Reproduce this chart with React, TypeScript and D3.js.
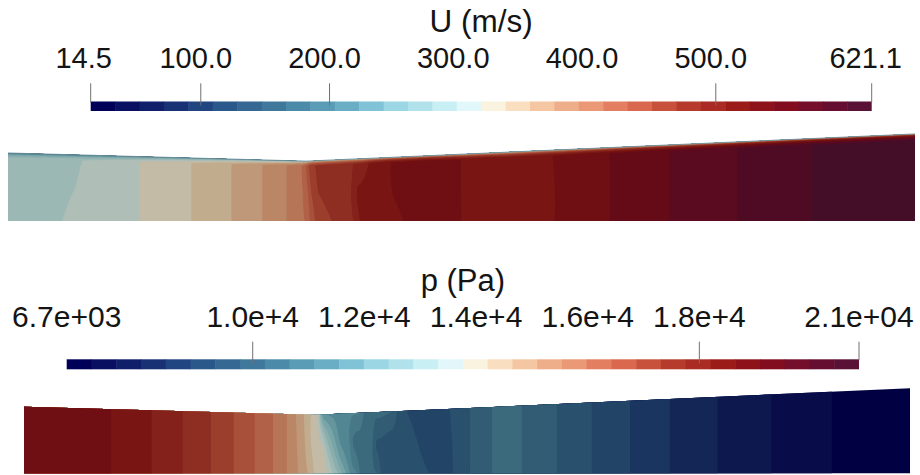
import React, { useMemo } from "react";
import * as d3 from "d3";

const W = 920;
const H = 475;
const FONT = "'Liberation Sans', Arial, Helvetica, sans-serif";

// "Cool to Warm (Extended)" colour map: stop positions and colours
const CMAP_POS = [0, 0.03125, 0.0625, 0.09375, 0.125, 0.15625, 0.1875, 0.21875, 0.25, 0.28125, 0.3125, 0.34375, 0.375, 0.40625, 0.4375, 0.46875, 0.5, 0.52, 0.54, 0.5625, 0.59375, 0.625, 0.65625, 0.6875, 0.71875, 0.75, 0.78125, 0.8125, 0.84375, 0.875, 0.90625, 0.9375, 0.96875, 1];
const CMAP_HEX = ["#000059", "#0a1061", "#101e69", "#172f73", "#204380", "#29568a", "#336591", "#3d7499", "#4985a6", "#5697b3", "#63a7bf", "#77bcd1", "#92d1e0", "#a7dde8", "#c0eaf0", "#d2f4f7", "#f0fbfc", "#fcf1d9", "#fae5c8", "#f7d5b2", "#f2bb96", "#eda682", "#e8906f", "#e0755a", "#d66349", "#c24b36", "#b3362b", "#a62821", "#991818", "#8c1119", "#800d20", "#730e2c", "#660e31", "#591236"];
const N_BINS = 32;
// diffuse lighting applied to the rendered surfaces (r, g, b)
const FIELD_SHADE = [0.78, 0.77, 0.74];

// Velocity magnitude legend
const U_MIN = 14.5;
const U_MAX = 621.1;
const U_TITLE = "U (m/s)";
const U_LABELS = [100, 200, 300, 400, 500];
const U_TICKS = [100, 200, 500];

// Static pressure legend
const P_MIN = 6668;
const P_MAX = 20860;
const P_TITLE = "p (Pa)";
const P_LABELS = [10000, 12000, 14000, 16000, 18000];
const P_TICKS = [10000, 18000];

// Nozzle wall: half-height against axial position, both divided by the nozzle length
const WALL_S = [0, 0.329, 1];
const WALL_H = [0.075, 0.066, 0.096];

// Velocity magnitude samples [s, U] on the axis, at mid-height and just inside the wall
const U_AXIS: [number, number][] = [
  [0, 289], [0.0606, 299], [0.1455, 318], [0.2029, 337], [0.247, 356], [0.2811, 375],
  [0.3076, 394], [0.3275, 413], [0.333, 432], [0.3385, 451], [0.3572, 470], [0.3826, 489],
  [0.3881, 508], [0.4377, 527], [0.4675, 536], [0.5006, 526], [0.5535, 517], [0.6064, 527],
  [0.6659, 546], [0.7321, 565], [0.8071, 584], [0.8898, 603], [1, 616],
];
const U_MID: [number, number][] = [
  [0, 289], [0.075, 299], [0.1455, 318], [0.2029, 337], [0.247, 356], [0.2811, 375],
  [0.3076, 394], [0.3252, 413], [0.3308, 432], [0.3341, 451], [0.3418, 470], [0.3793, 489],
  [0.3848, 508], [0.4245, 527], [0.4653, 536], [0.5006, 526], [0.5535, 517], [0.6064, 527],
  [0.6659, 546], [0.7321, 565], [0.8071, 584], [0.8898, 603], [1, 616],
];
const U_WALL: [number, number][] = [
  [0, 289], [0.0871, 299], [0.1455, 318], [0.2029, 337], [0.247, 356], [0.2811, 375],
  [0.3076, 394], [0.3241, 413], [0.3286, 432], [0.3308, 451], [0.3352, 470], [0.3903, 489],
  [0.3991, 508], [0.4234, 527], [0.4653, 536], [0.5006, 526], [0.5535, 517], [0.6031, 527],
  [0.6659, 546], [0.7321, 565], [0.8071, 584], [0.8898, 603], [1, 616],
];

// Pressure samples [s, p] on the axis, at mid-height and at the wall
const P_UPSTREAM: [number, number][] = [
  [0, 18900], [0.0993, 18640], [0.1445, 18195], [0.1795, 17750], [0.2111, 17310],
  [0.237, 16865], [0.2607, 16420], [0.281, 15980], [0.2968, 15535],
];
const P_DOWNSTREAM: [number, number][] = [
  [0.5034, 9775], [0.5282, 10220], [0.5451, 10400], [0.5621, 10215], [0.6016, 9770],
  [0.6411, 9325], [0.684, 8885], [0.7291, 8440], [0.7833, 7995], [0.8442, 7550],
  [0.912, 7110], [1, 6850],
];
const P_AXIS: [number, number][] = [
  ...P_UPSTREAM,
  [0.3093, 15090], [0.3205, 14650], [0.3273, 14205], [0.3431, 13760], [0.3488, 13320],
  [0.3544, 12875], [0.3589, 12430], [0.3634, 11985], [0.3679, 11545], [0.3758, 11100],
  [0.3792, 10655], [0.3995, 10215], [0.4029, 9770], [0.4582, 9325], [0.4707, 9100],
  [0.4842, 9330],
  ...P_DOWNSTREAM,
];
const P_MID: [number, number][] = [
  ...P_UPSTREAM,
  [0.3081, 15090], [0.3172, 14650], [0.3239, 14205], [0.3363, 13760], [0.3397, 13320],
  [0.3431, 12875], [0.3476, 12430], [0.3521, 11985], [0.3567, 11545], [0.3679, 11100],
  [0.3713, 10655], [0.3939, 10215], [0.3973, 9770], [0.4447, 9325], [0.465, 9100],
  [0.4831, 9330],
  ...P_DOWNSTREAM,
];
const P_WALL: [number, number][] = [
  ...P_UPSTREAM,
  [0.307, 15090], [0.316, 14650], [0.3239, 14205], [0.3318, 13760], [0.333, 13320],
  [0.3341, 12875], [0.3352, 12430], [0.3363, 11985], [0.3386, 11545], [0.3792, 11100],
  [0.3837, 10655], [0.4165, 10215], [0.421, 9770], [0.4323, 9325], [0.4582, 9100],
  [0.4808, 9330],
  ...P_DOWNSTREAM,
];

// Sampling grid in (s, eta), eta = 0 on the axis and 1 on the wall
const NX = 940;
const NY = 110;
const S0 = -0.01;
const S1 = 1.01;
const E0 = -0.03;
const E1 = 1.05;
const DS = (S1 - S0) / NX;
const DE = (E1 - E0) / NY;

type Box = { x0: number; len: number; base: number };
const U_BOX: Box = { x0: 8, len: 907, base: 221 };
const P_BOX: Box = { x0: 24, len: 886, base: 473.3 };

type LegendSpec = {
  title: string; min: number; max: number; labels: number[]; ticks: number[];
  x0: number; x1: number; barY: number; barH: number; titleY: number; labelY: number;
  tickTop: number; tickBottom: number; labelShift: number; minTick: boolean;
  titleSize: number; labelSize: number;
  fmtMid: (v: number) => string; fmtEnd: (v: number) => string;
};

const expo = (v: number) => v.toExponential(1).replace(/e([+-])(\d)$/, "e$10$2");

const U_LEGEND: LegendSpec = {
  title: U_TITLE, min: U_MIN, max: U_MAX, labels: U_LABELS, ticks: U_TICKS,
  x0: 90.7, x1: 871.7, barY: 101.5, barH: 9.5, titleY: 31.5, labelY: 68.3,
  tickTop: 83.3, tickBottom: 105.5, labelShift: -5, minTick: true,
  titleSize: 31.5, labelSize: 29,
  fmtMid: (v) => v.toFixed(1), fmtEnd: (v) => v.toFixed(1),
};
const P_LEGEND: LegendSpec = {
  title: P_TITLE, min: P_MIN, max: P_MAX, labels: P_LABELS, ticks: P_TICKS,
  x0: 66.7, x1: 859, barY: 359.3, barH: 10, titleY: 291, labelY: 326.7,
  tickTop: 341.7, tickBottom: 363.5, labelShift: 0, minTick: false,
  titleSize: 31, labelSize: 30,
  fmtMid: (v) => v.toExponential(1), fmtEnd: expo,
};

function Legend({ spec, colors }: { spec: LegendSpec; colors: string[] }) {
  const x = d3.scaleLinear().domain([spec.min, spec.max]).range([spec.x0, spec.x1]);
  const edges = d3.range(N_BINS + 1).map((i) => spec.min + ((spec.max - spec.min) * i) / N_BINS);
  const tickColor = "#707070";
  return (
    <g fontFamily={FONT} fill="#141414">
      <text x={(spec.x0 + spec.x1) / 2} y={spec.titleY} fontSize={spec.titleSize} textAnchor="middle">
        {spec.title}
      </text>
      <text x={x(spec.min) + spec.labelShift * 1.4} y={spec.labelY} fontSize={spec.labelSize} textAnchor="middle">
        {spec.fmtEnd(spec.min)}
      </text>
      {spec.labels.map((v) => (
        <text key={v} x={x(v) + spec.labelShift} y={spec.labelY} fontSize={spec.labelSize} textAnchor="middle">
          {spec.fmtMid(v)}
        </text>
      ))}
      <text x={x(spec.max) + spec.labelShift * 1.2} y={spec.labelY} fontSize={spec.labelSize} textAnchor="middle">
        {spec.fmtEnd(spec.max)}
      </text>
      {d3.range(N_BINS).map((i) => (
        <rect
          key={i}
          x={x(edges[i])}
          y={spec.barY}
          width={x(edges[i + 1]) - x(edges[i]) + (i < N_BINS - 1 ? 0.5 : 0)}
          height={spec.barH}
          fill={colors[i]}
        />
      ))}
      {spec.ticks.map((v) => (
        <line key={v} x1={x(v)} x2={x(v)} y1={spec.tickTop} y2={spec.tickBottom} stroke={tickColor} strokeWidth={1} />
      ))}
      {spec.minTick && (
        <line x1={x(spec.min)} x2={x(spec.min)} y1={spec.tickTop} y2={spec.barY + 1} stroke={tickColor} strokeWidth={1} />
      )}
      <line x1={x(spec.max)} x2={x(spec.max)} y1={spec.tickTop} y2={spec.barY + 1} stroke={tickColor} strokeWidth={1} />
    </g>
  );
}

type FieldProps = {
  id: string;
  rows: [number, number][][];
  min: number;
  max: number;
  box: Box;
  colors: string[];
  profileFactor?: (eta: number) => number;
  wallStroke?: string;
};

function Field({ id, rows, min, max, box, colors, profileFactor, wallStroke }: FieldProps) {
  const built = useMemo(() => {
    const halfHeight = d3.scaleLinear().domain(WALL_S).range(WALL_H);
    const px = (s: number) => box.x0 + s * box.len;
    const py = (s: number, e: number) => box.base - e * halfHeight(s) * box.len;

    // values along s for each row
    const profiles = rows.map((r) =>
      d3.scaleLinear().domain(r.map((d) => d[0])).range(r.map((d) => d[1])).clamp(true)
    );
    const cols = profiles.map((f) => d3.range(NX).map((i) => f(S0 + (i + 0.5) * DS)));
    const values = new Array(NX * NY);
    for (let j = 0; j < NY; j++) {
      const e = E0 + (j + 0.5) * DE;
      const t = Math.min(1, Math.max(0, e));
      const w0 = 2 * (t - 0.5) * (t - 1);
      const w1 = -4 * t * (t - 1);
      const w2 = 2 * t * (t - 0.5);
      const m = profileFactor ? profileFactor(e) : 1;
      for (let i = 0; i < NX; i++) {
        values[j * NX + i] = (w0 * cols[0][i] + w1 * cols[1][i] + w2 * cols[2][i]) * m;
      }
    }
    const thresholds = d3.range(1, N_BINS).map((k) => min + ((max - min) * k) / N_BINS);
    const bands = d3.contours().size([NX, NY]).thresholds(thresholds)(values);

    const projection = d3.geoTransform({
      point(gx: number, gy: number) {
        const s = S0 + gx * DS;
        const e = E0 + gy * DE;
        (this as any).stream.point(px(s), py(s, e));
      },
    });
    const path = d3.geoPath(projection);
    const bandPaths = bands.map((b) => path(b as any) || "");

    const wallPts: [number, number][] = WALL_S.map((s) => [px(s), py(s, 1)]);
    const outline: [number, number][] = [[px(0), box.base], ...wallPts, [px(1), box.base]];
    const clip = (d3.line()(outline) || "") + "Z";
    const wall = d3.line()(wallPts) || "";
    return { bandPaths, clip, wall, x0: px(0), x1: px(1), top: py(1, 1) };
  }, [rows, min, max, box, profileFactor]);

  return (
    <g>
      <defs>
        <clipPath id={id}>
          <path d={built.clip} />
        </clipPath>
      </defs>
      <g clipPath={`url(#${id})`}>
        <rect x={built.x0 - 2} y={built.top - 10} width={built.x1 - built.x0 + 4} height={box.base - built.top + 12} fill={colors[0]} />
        {built.bandPaths.map((d, i) => (
          <path key={i} d={d} fill={colors[i + 1]} />
        ))}
      </g>
      {wallStroke && <path d={built.wall} fill="none" stroke={wallStroke} strokeWidth={1} strokeOpacity={0.9} />}
    </g>
  );
}

// thin viscous layer at the wall
const wallLayer = (eta: number) => {
  const d = Math.max(0, 1 - eta) / 0.08;
  return Math.max(0.6, Math.pow(Math.min(1, d), 1 / 7));
};

const U_ROWS = [U_AXIS, U_MID, U_WALL];
const P_ROWS = [P_AXIS, P_MID, P_WALL];

export default function App() {
  const { barColors, surfaceColors } = useMemo(() => {
    const cmap = d3.scaleLinear<string>().domain(CMAP_POS).range(CMAP_HEX).interpolate(d3.interpolateRgb);
    const bar = d3.range(N_BINS).map((i) => cmap(i / (N_BINS - 1)));
    const surf = bar.map((c) => {
      const r = d3.rgb(c);
      return d3.rgb(r.r * FIELD_SHADE[0], r.g * FIELD_SHADE[1], r.b * FIELD_SHADE[2]).formatHex();
    });
    return { barColors: bar, surfaceColors: surf };
  }, []);

  return (
    <svg width={W} height={H} viewBox={`0 0 ${W} ${H}`} style={{ position: "absolute", left: 0, top: 0, display: "block", background: "#ffffff" }}>
      <rect width={W} height={H} fill="#ffffff" />
      <Legend spec={U_LEGEND} colors={barColors} />
      <Field id="clip-u" rows={U_ROWS} min={U_MIN} max={U_MAX} box={U_BOX} colors={surfaceColors} profileFactor={wallLayer} wallStroke="#6d909b" />
      <Legend spec={P_LEGEND} colors={barColors} />
      <Field id="clip-p" rows={P_ROWS} min={P_MIN} max={P_MAX} box={P_BOX} colors={surfaceColors} />
    </svg>
  );
}
